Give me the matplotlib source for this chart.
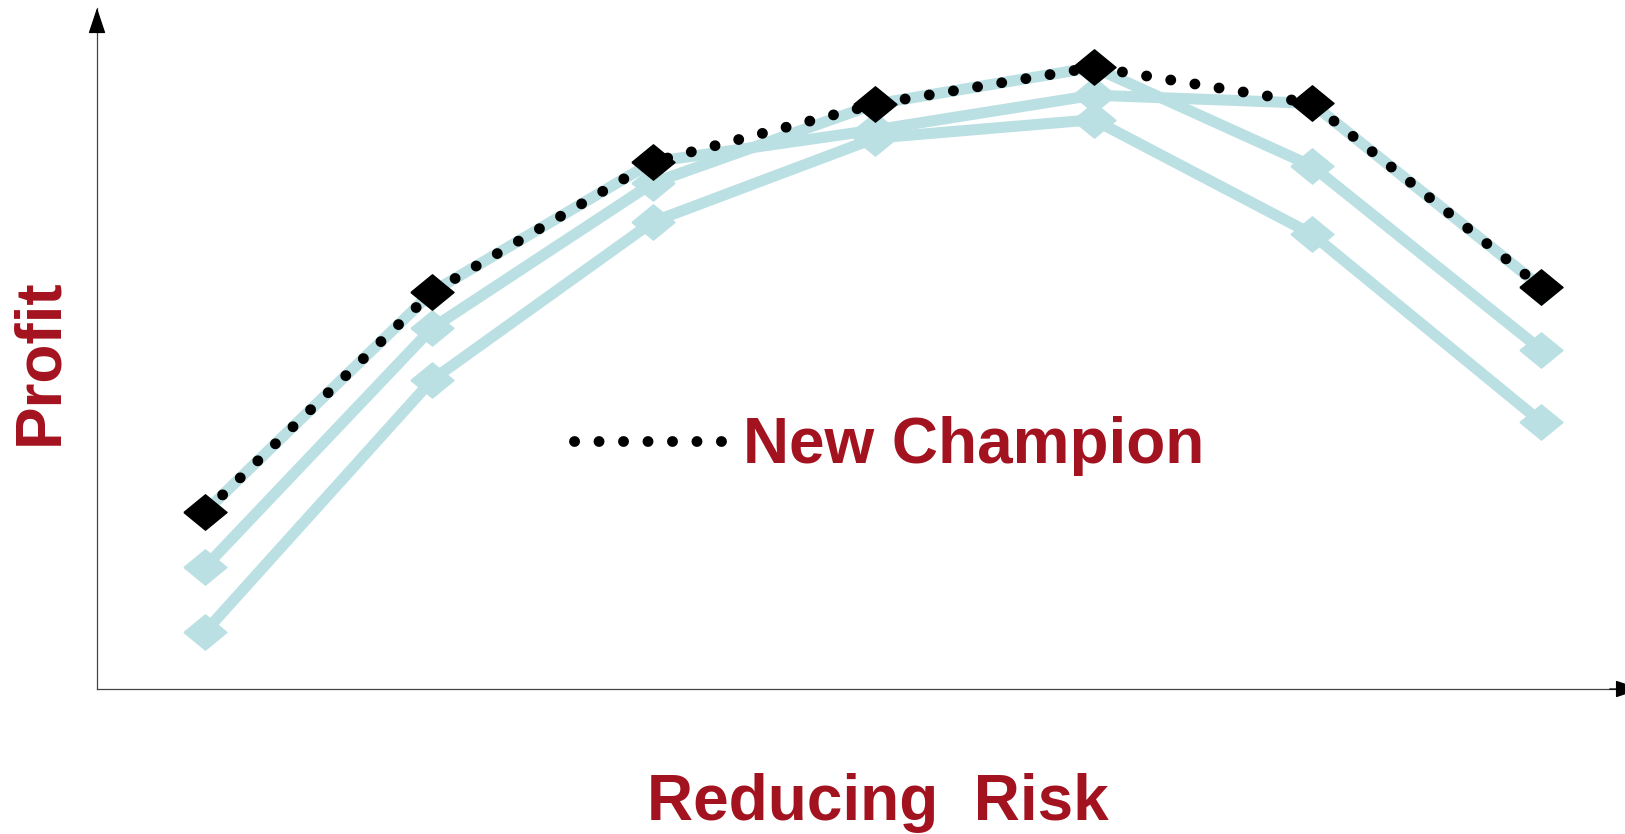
import matplotlib
matplotlib.use("Agg")
import matplotlib.pyplot as plt
from matplotlib.lines import Line2D

# profit of each portfolio at 7 risk levels (arbitrary units)
steps = [1, 2.02, 3.01, 4.01, 4.99, 5.97, 7]
model_a = [26.0, 58.3, 77.4, 82.1, 87.2, 86.0, 59.0]
model_b = [17.9, 53.0, 74.3, 85.9, 91.3, 76.8, 49.8]
model_c = [8.4, 45.4, 68.6, 80.9, 83.6, 66.8, 39.2]
champion = [26.0, 58.3, 77.4, 85.9, 91.3, 86.0, 59.0]

blue = "#BBE0E3"
red = "#A3121F"
diamond = [(-1, 0), (0, 0.82), (1, 0), (0, -0.82), (-1, 0)]
dots = (0, (0.01, 2.25))

W, H = 1625, 834
fig = plt.figure(figsize=(W / 100, H / 100), dpi=100)
ax = fig.add_axes([97 / W, 145 / H, 1 - 97 / W, (689 - 8) / H])

for vals in (model_a, model_b, model_c):
    ax.plot(steps, vals, color=blue, lw=8, marker=diamond, ms=31,
            solid_joinstyle="miter", clip_on=False, zorder=2)

ax.plot(steps, champion, color="black", lw=7.8, linestyle=dots,
        dash_capstyle="round", clip_on=False, zorder=3)
ax.plot(steps, champion, linestyle="none", marker=diamond, ms=31,
        color="black", clip_on=False, zorder=4)

ax.set_xlim(0.515, 7.376)
ax.set_ylim(0, 100)
ax.set_xticks([])
ax.set_yticks([])
for s in ("top", "right"):
    ax.spines[s].set_visible(False)
for s in ("left", "bottom"):
    ax.spines[s].set_color("#444444")
    ax.spines[s].set_linewidth(0.9)

# arrow heads on the axes (the x one runs off the right edge)
head = dict(arrowstyle="-|>,head_length=0.9,head_width=0.3", color="black",
            lw=0.9, shrinkA=0, shrinkB=0, mutation_scale=18)
ax.annotate("", xy=(0, 1), xytext=(0, 0.99), xycoords="axes fraction",
            arrowprops=head, annotation_clip=False)
ax.annotate("", xy=(1.0105, 0), xytext=(0.99, 0), xycoords="axes fraction",
            arrowprops=head, annotation_clip=False)

font = dict(family=["Liberation Sans", "DejaVu Sans"], weight="bold", color=red)

handle = Line2D([], [], color="black", lw=7.8, linestyle=dots,
                dash_capstyle="round")
leg = ax.legend([handle], ["New Champion"], loc="center left",
                bbox_to_anchor=(574 / W, 1 - 446 / H), bbox_transform=fig.transFigure,
                frameon=False, handlelength=2.4, handletextpad=0.24,
                borderpad=0, borderaxespad=0,
                prop=dict(family=["Liberation Sans", "DejaVu Sans"], weight="bold", size=46))
for t in leg.get_texts():
    t.set_color(red)

fig.text(878 / W, 1 - 820 / H, "Reducing  Risk", ha="center", va="baseline",
         size=46, **font)
fig.text(40 / W, 1 - 362 / H, "Profit", ha="center", va="center",
         rotation=90, size=46, **font)

fig.savefig("out.png", dpi=100)
